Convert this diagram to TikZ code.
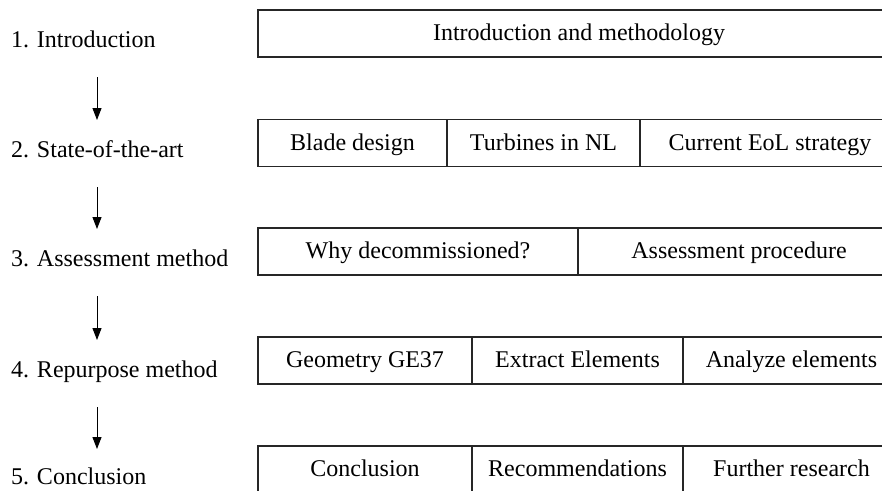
\documentclass[tikz,border=0pt]{standalone}
\usepackage{fontspec}
\setmainfont{Liberation Serif}
\usetikzlibrary{positioning,arrows.meta}
\tikzset{
    chap/.style = {
        anchor=base west,
        outer sep=0,
        inner sep=0,
        font=\fontsize{24}{28}\selectfont
    },
    cell/.style = {
        draw=black!85, line width=1.3pt, rectangle, align=center,
        outer sep=0,
        inner sep=0,
        text height=17pt, text depth=3pt,
        minimum height={47pt},
        font=\fontsize{24}{28}\selectfont
    },
    flow/.style = {
        -{Triangle[length=12pt,width=9pt]}, line width=1pt,
        shorten <=30pt, shorten >=37pt
    }
}

\begin{document}
\begin{tikzpicture}[x=1pt,y=-1pt]

% 0. frame of the picture
\useasboundingbox (0,0) rectangle (882,490);
\clip (0,0) rectangle (882,490);

% 1. chapter labels
\node[chap] (l1) at (11,47)  {1. Introduction};
\node[chap] (l2) at (11,157) {2. State-of-the-art};
\node[chap] (l3) at (11,266) {3. Assessment method};
\node[chap] (l4) at (11,377) {4. Repurpose method};
\node[chap] (l5) at (11,484) {5. Conclusion};

% 2. arrows between chapters
\coordinate (ax) at (97,0);
\draw[flow] (ax |- l1.base) -- (ax |- l2.base);
\draw[flow] (ax |- l2.base) -- (ax |- l3.base);
\draw[flow] (ax |- l3.base) -- (ax |- l4.base);
\draw[flow,shorten >=35pt] (ax |- l4.base) -- (ax |- l5.base);

% 3. content rows
\node[cell,anchor=west,minimum width=642pt] (intro) at (258,33.5) {Introduction and methodology};

\node[cell,anchor=west,minimum width=189pt] (blade) at (258,143) {Blade design};
\node[cell,minimum width=193pt,right=0pt of blade] (turb) {Turbines in NL};
\node[cell,minimum width=260pt,right=0pt of turb] (eol) {Current EoL strategy};

\node[cell,anchor=west,minimum width=320pt] (why) at (258,251.5) {Why decommissioned?};
\node[cell,minimum width=322pt,right=0pt of why] (proc) {Assessment procedure};

\node[cell,anchor=west,minimum width=214pt] (geom) at (258,360.5) {Geometry GE37};
\node[cell,minimum width=211pt,right=0pt of geom] (extr) {Extract Elements};
\node[cell,minimum width=217pt,right=0pt of extr] (anal) {Analyze elements};

\node[cell,anchor=west,minimum width=214pt] (concl) at (258,469.5) {Conclusion};
\node[cell,minimum width=211pt,right=0pt of concl] (recom) {Recommendations};
\node[cell,minimum width=217pt,right=0pt of recom] (further) {Further research};

\end{tikzpicture}
\end{document}
